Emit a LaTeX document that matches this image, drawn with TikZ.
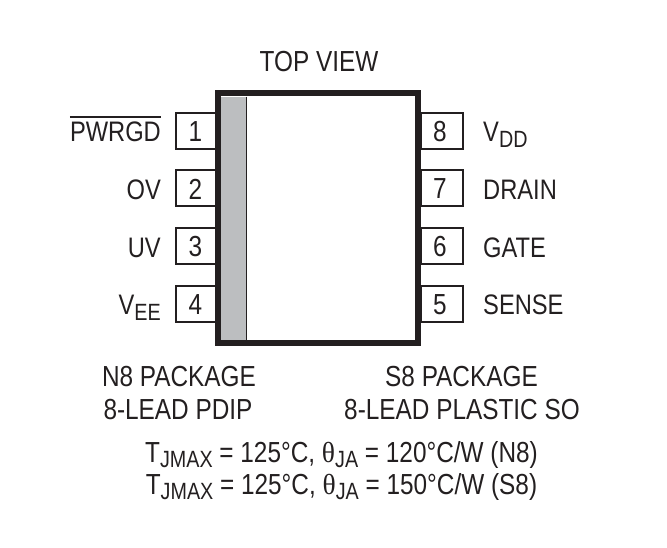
\documentclass[tikz,border=0pt]{standalone}
\usepackage{fontspec}
\setmainfont[FakeStretch=0.84]{Liberation Sans}
\newfontfamily\thetafont[FakeStretch=0.95]{Liberation Serif}
\definecolor{ink}{HTML}{231F20}
\definecolor{strip}{HTML}{BCBEC0}
\newcommand{\subs}[1]{\raisebox{-5.5pt}{\fontsize{23.5}{23.5}\selectfont #1}}
\newcommand{\thetasym}{{\thetafont θ}}
\tikzset{
  x=1pt,y=-1pt,
  pinbox/.style={draw=ink,line width=2pt,fill=white,minimum width=42pt,minimum height=36pt,inner sep=0pt},
  pinnum/.style={inner sep=0pt,text=ink,font=\fontsize{29}{29}\selectfont},
  lbl/.style={inner sep=0pt,text=ink,font=\fontsize{29}{29}\selectfont},
  side/.style={inner sep=0pt,text=ink,font=\fontsize{28.2}{28.2}\selectfont},
  lblr/.style={side,anchor=base east},
  lbll/.style={side,anchor=base west},
  lblc/.style={lbl,anchor=base},
  body/.style={draw=ink,line width=6pt,fill=white,minimum width=200pt,minimum height=250pt,inner sep=0pt},
}
\begin{document}
\begin{tikzpicture}
\useasboundingbox (0,0) rectangle (667,547);
% pins
\node[pinbox] (p1) at (197,131) {};
\node[pinbox] (p2) at (197,188) {};
\node[pinbox] (p3) at (197,246) {};
\node[pinbox] (p4) at (197,304) {};
\node[pinbox] (p8) at (441.5,131) {};
\node[pinbox] (p7) at (441.5,188) {};
\node[pinbox] (p6) at (441.5,246) {};
\node[pinbox] (p5) at (441.5,304) {};
\foreach \n/\px/\py in {1/195.5/132,2/195.5/189,3/195.5/247,4/195.5/305,8/440/132,7/440/189,6/440/247,5/440/305}
  \node[pinnum] (d\n) at (\px,\py) {\n};
% body
\node[body] (ic) at (317.5,218.25) {};
\fill[strip] (220.5,96.5) rectangle (246,340);
\draw[ink,line width=1.3pt] (246.5,96.5) -- (246.5,340);
% labels
\node[lblc] (top) at (319,71) {TOP VIEW};
\node[lblr] (l1) at (161,141.5) {PWRGD};
\draw[ink,line width=1.3pt] (l1.north west |- 0,117) -- (l1.north east |- 0,117);
\node[lblr] (l2) at (161,199) {OV};
\node[lblr] (l3) at (161,257) {UV};
\node[lblr] (l4) at (161,314.5) {V\subs{EE}};
\node[lbll] (l8) at (483,141.5) {V\subs{DD}};
\node[lbll] (l7) at (483,199) {DRAIN};
\node[lbll] (l6) at (483,257) {GATE};
\node[lbll] (l5) at (483,314) {SENSE};
\node[lblc] (n1) at (179,386) {N8 PACKAGE};
\node[lblc] (n2) at (178,419) {8-LEAD PDIP};
\node[lblc] (s1) at (461.5,386) {S8 PACKAGE};
\node[lblc] (s2) at (462,419) {8-LEAD PLASTIC SO};
\node[lblc] (t1) at (341.5,462) {T\subs{JMAX} = 125°C, \thetasym\subs{JA} = 120°C/W (N8)};
\node[lblc] (t2) at (341.5,494) {T\subs{JMAX} = 125°C, \thetasym\subs{JA} = 150°C/W (S8)};
\end{tikzpicture}
\end{document}
